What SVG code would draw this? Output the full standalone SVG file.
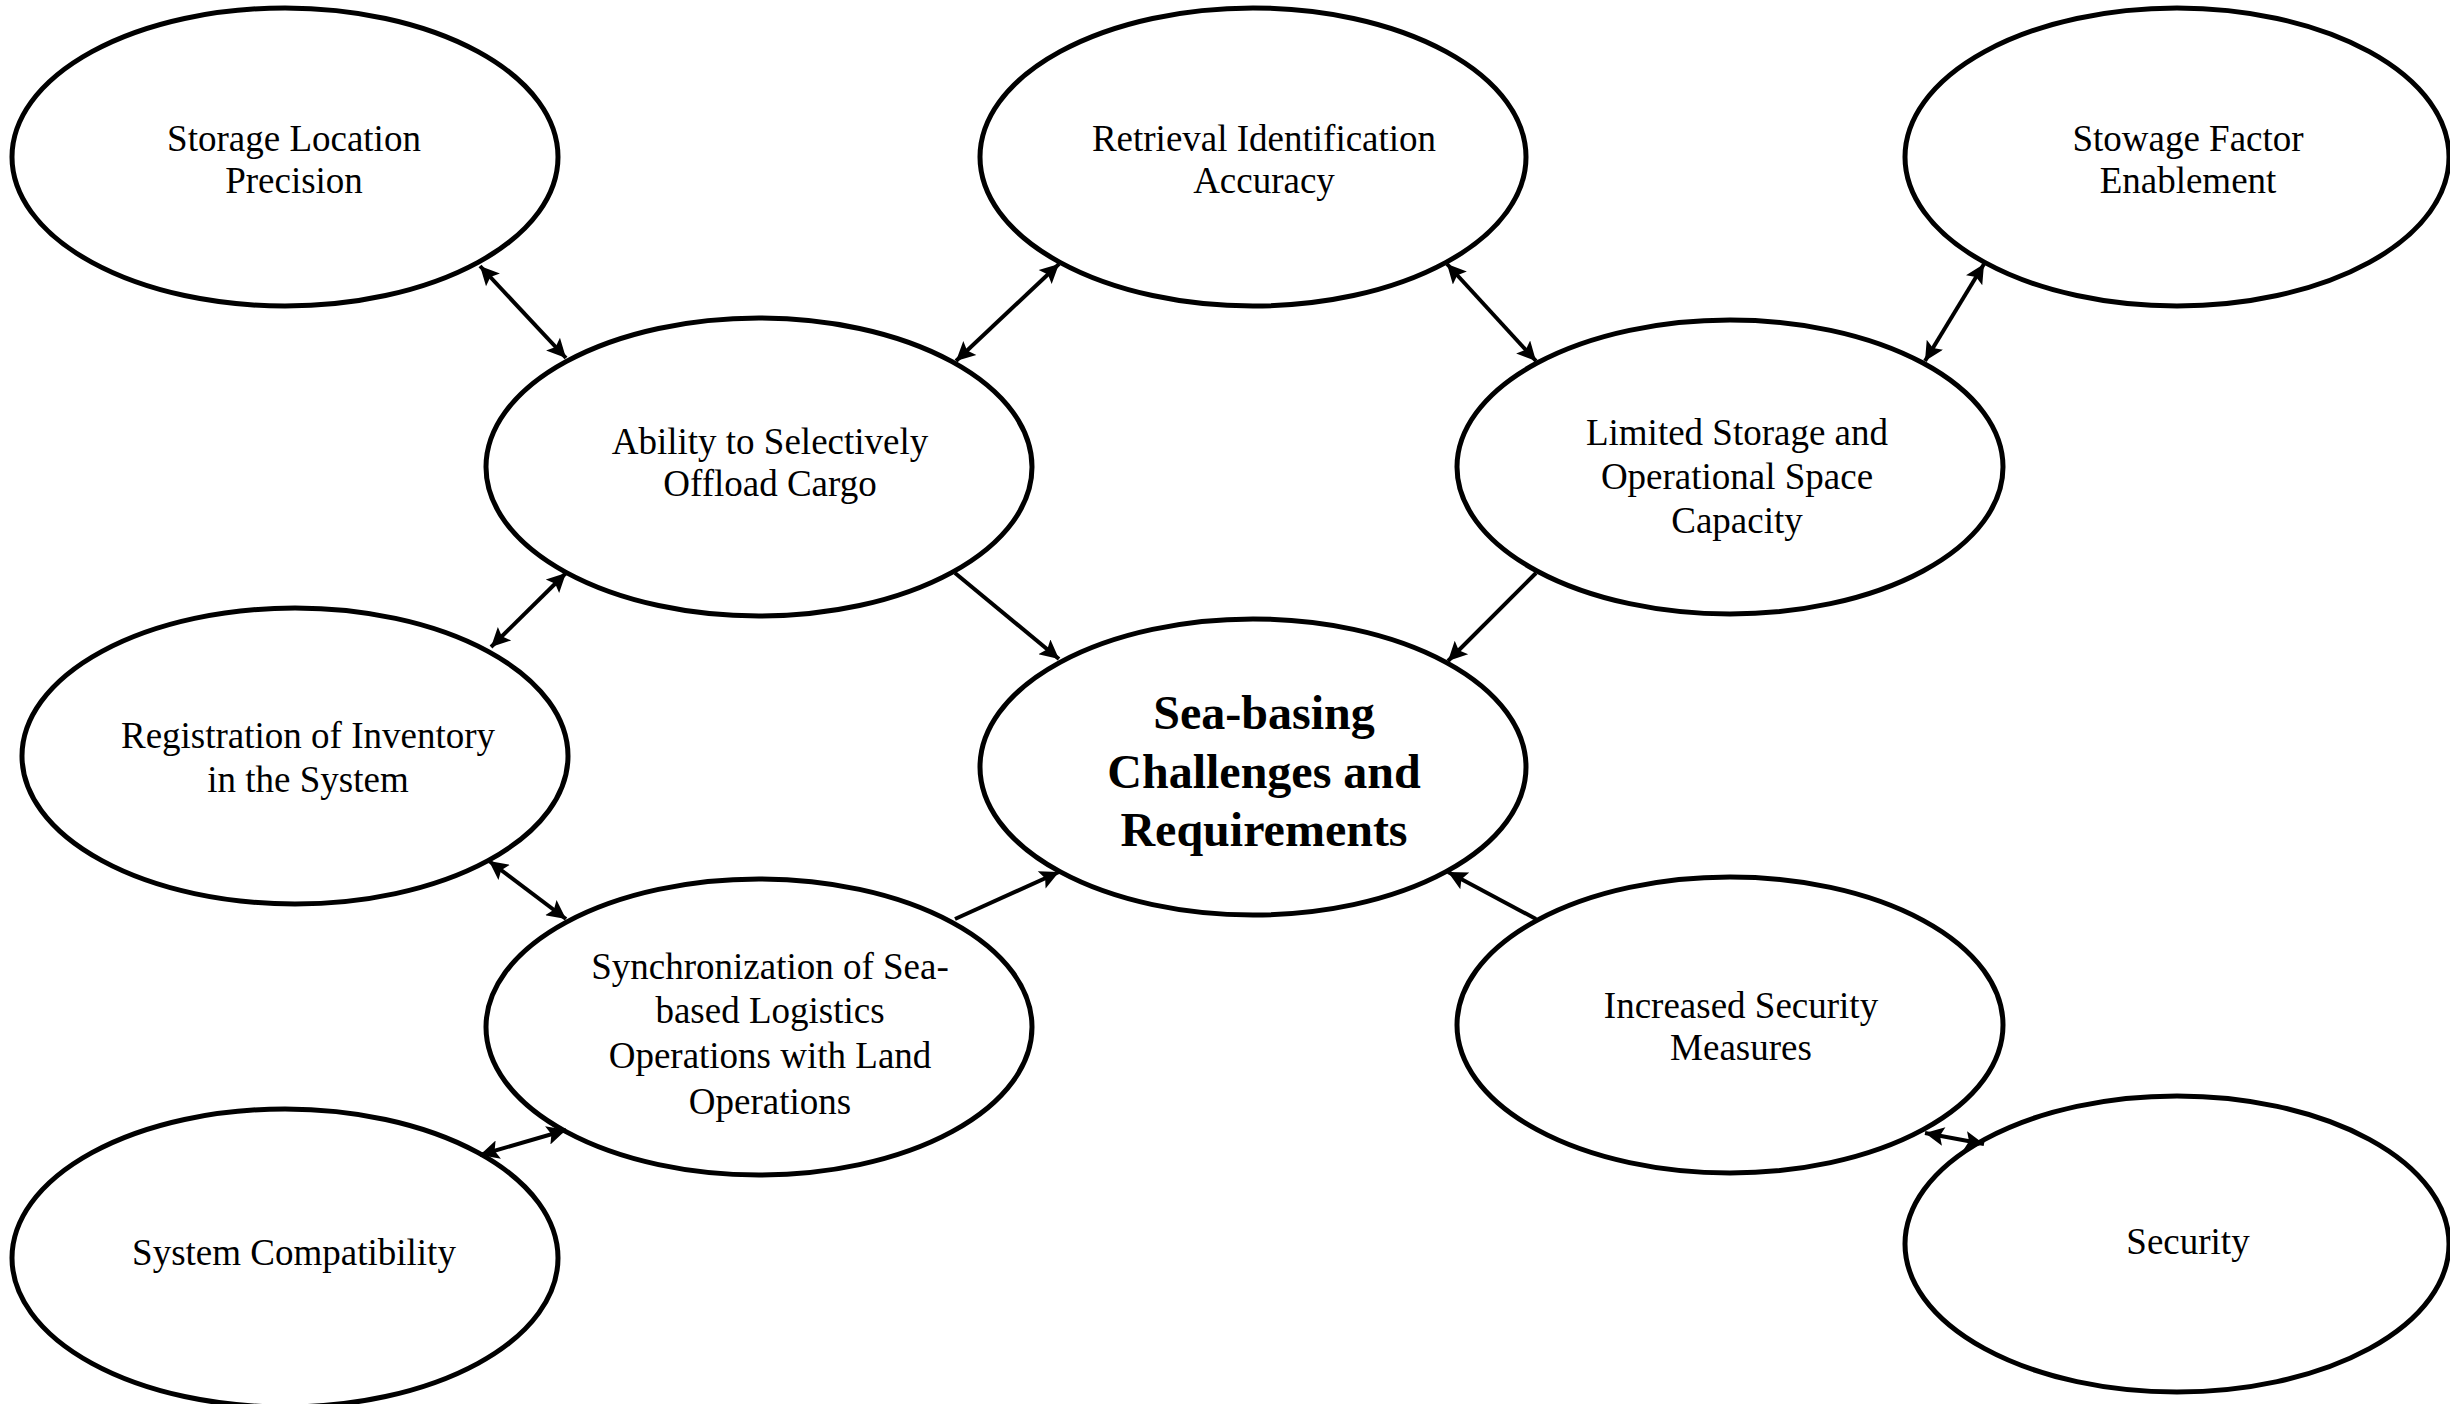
<svg xmlns="http://www.w3.org/2000/svg" width="2450" height="1404" viewBox="0 0 2450 1404">
<style>
.n ellipse{fill:#fff;stroke:#000;stroke-width:5}
.n text{font-family:"Liberation Serif","Times New Roman",serif;font-size:37px;fill:#000;text-anchor:middle}
.n text.b{font-weight:bold;font-size:48px}
.c line{stroke:#000;stroke-width:4;fill:none}
</style>
<defs>
<marker id="ah" viewBox="0 0 10 10" refX="10" refY="5" markerWidth="25" markerHeight="19" markerUnits="userSpaceOnUse" orient="auto-start-reverse">
<path d="M0,0 L10,5 L0,10 L2,5 z" fill="#000"/>
</marker>
</defs>
<rect width="2450" height="1404" fill="#fff"/>
<g id="n-storage" class="n"><ellipse cx="285" cy="157" rx="273" ry="149"/><text x="294" y="151">Storage Location</text><text x="294" y="193">Precision</text></g>
<g id="n-retrieval" class="n"><ellipse cx="1253" cy="157" rx="273" ry="149"/><text x="1264" y="151">Retrieval Identification</text><text x="1264" y="193">Accuracy</text></g>
<g id="n-stowage" class="n"><ellipse cx="2177" cy="157" rx="272" ry="149"/><text x="2188" y="151">Stowage Factor</text><text x="2188" y="193">Enablement</text></g>
<g id="n-ability" class="n"><ellipse cx="759" cy="467" rx="273" ry="149"/><text x="770" y="454">Ability to Selectively</text><text x="770" y="496">Offload Cargo</text></g>
<g id="n-limited" class="n"><ellipse cx="1730" cy="467" rx="273" ry="147"/><text x="1737" y="445">Limited Storage and</text><text x="1737" y="489">Operational Space</text><text x="1737" y="533">Capacity</text></g>
<g id="n-registration" class="n"><ellipse cx="295" cy="756" rx="273" ry="148"/><text x="308" y="748">Registration of Inventory</text><text x="308" y="792">in the System</text></g>
<g id="n-center" class="n"><ellipse cx="1253" cy="767" rx="273" ry="148"/><text class="b" x="1264" y="729">Sea-basing</text><text class="b" x="1264" y="788">Challenges and</text><text class="b" x="1264" y="846">Requirements</text></g>
<g id="n-sync" class="n"><ellipse cx="759" cy="1027" rx="273" ry="148"/><text x="770" y="979">Synchronization of Sea-</text><text x="770" y="1023">based Logistics</text><text x="770" y="1068">Operations with Land</text><text x="770" y="1114">Operations</text></g>
<g id="n-increased" class="n"><ellipse cx="1730" cy="1025" rx="273" ry="148"/><text x="1741" y="1018">Increased Security</text><text x="1741" y="1060">Measures</text></g>
<g id="n-system" class="n"><ellipse cx="285" cy="1258" rx="273" ry="149"/><text x="294" y="1265">System Compatibility</text></g>
<g id="n-security" class="n"><ellipse cx="2177" cy="1244" rx="272" ry="148"/><text x="2188" y="1254">Security</text></g>
<g id="connectors" class="c">
<line x1="480" y1="266" x2="566" y2="358" marker-start="url(#ah)" marker-end="url(#ah)"/>
<line x1="1059" y1="264" x2="956" y2="361" marker-start="url(#ah)" marker-end="url(#ah)"/>
<line x1="1447" y1="264" x2="1536" y2="361" marker-start="url(#ah)" marker-end="url(#ah)"/>
<line x1="1984" y1="264" x2="1925" y2="361" marker-start="url(#ah)" marker-end="url(#ah)"/>
<line x1="955" y1="573" x2="1059" y2="659" marker-end="url(#ah)"/>
<line x1="1536" y1="573" x2="1448" y2="661" marker-end="url(#ah)"/>
<line x1="491" y1="647" x2="566" y2="573" marker-start="url(#ah)" marker-end="url(#ah)"/>
<line x1="489" y1="861" x2="566" y2="919" marker-start="url(#ah)" marker-end="url(#ah)"/>
<line x1="955" y1="919" x2="1059" y2="872" marker-end="url(#ah)"/>
<line x1="1536" y1="919" x2="1448" y2="872" marker-end="url(#ah)"/>
<line x1="480" y1="1155" x2="566" y2="1130" marker-start="url(#ah)" marker-end="url(#ah)"/>
<line x1="1925" y1="1133" x2="1984" y2="1144" marker-start="url(#ah)" marker-end="url(#ah)"/>
</g>
</svg>
